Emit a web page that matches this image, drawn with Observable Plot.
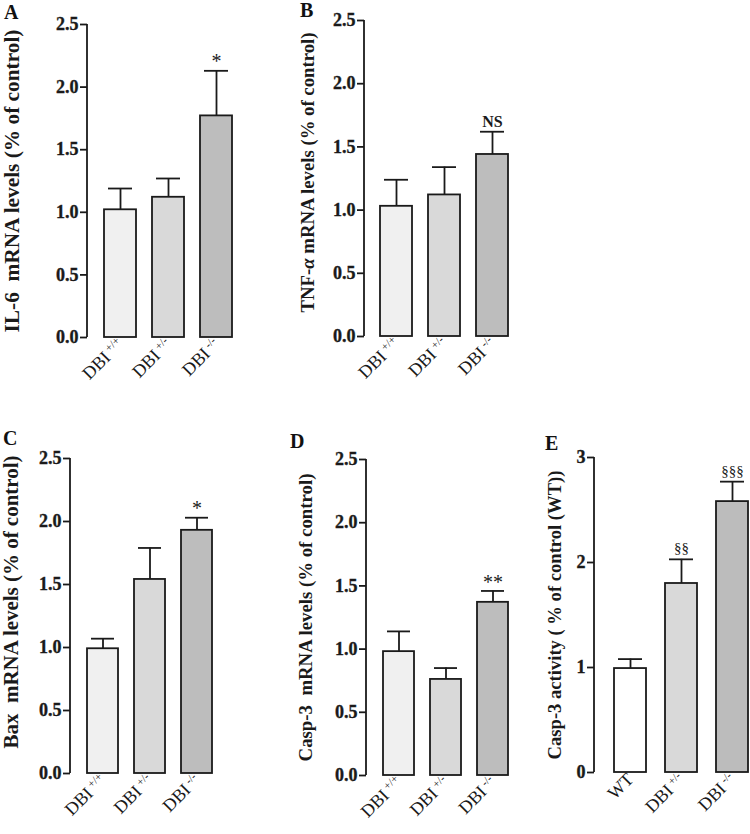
<!DOCTYPE html>
<html><head><meta charset="utf-8">
<script src="https://cdn.jsdelivr.net/npm/d3@7"></script>
<script src="https://cdn.jsdelivr.net/npm/@observablehq/plot@0.6"></script>
<style>
body{margin:0;background:#fff;}
#wrap{position:relative;width:750px;height:834px;overflow:hidden;}
#wrap svg{position:absolute;overflow:visible;}
.letter{position:absolute;font:bold 20px "Liberation Serif",serif;line-height:20px;color:#111;}
</style></head><body><div id="wrap"></div>
<script>
// ---- data ----
const groupsKO = ["DBI +/+", "DBI +/-", "DBI -/-"];
const groupsE = ["WT", "DBI +/-", "DBI -/-"];
const il6Mean = [1.02, 1.12, 1.77];
const il6Sem = [0.17, 0.15, 0.36];
const il6Sig = ["", "", "*"];
const tnfMean = [1.03, 1.12, 1.44];
const tnfSem = [0.21, 0.22, 0.18];
const tnfSig = ["", "", "NS"];
const baxMean = [0.99, 1.54, 1.93];
const baxSem = [0.08, 0.25, 0.10];
const baxSig = ["", "", "*"];
const casp3Mean = [0.98, 0.76, 1.37];
const casp3Sem = [0.16, 0.09, 0.09];
const casp3Sig = ["", "", "**"];
const actMean = [0.99, 1.80, 2.58];
const actSem = [0.09, 0.23, 0.19];
const actSig = ["", "§§", "§§§"];
const ticks25 = [0, 0.5, 1.0, 1.5, 2.0, 2.5];
const ticks3 = [0, 1, 2, 3];

// ---- styles ----
const fillsKO = ["#f0f0f0", "#d9d9d9", "#bdbdbd"];
const fillsE = ["#ffffff", "#d9d9d9", "#bcbcbc"];
const ink = "#1a1a1a";
const serif = "'Liberation Serif', 'Times New Roman', serif";

const wrap = document.getElementById("wrap");

function ariaOf(el) {
  const g = el.closest("[aria-label]");
  return g ? g.getAttribute("aria-label") : "";
}

function panel(o) {
  const data = o.cats.map((c, i) => ({cat: c, mean: o.mean[i], top: o.mean[i] + o.sem[i], sig: o.sig[i]}));
  const mL = o.axisX - o.left, mT = o.yTop - o.top, mB = o.height - (o.yBottom - o.top);
  const svg = Plot.plot({
    width: o.width, height: o.height,
    marginLeft: mL, marginTop: mT, marginBottom: mB, marginRight: 0,
    style: {fontFamily: serif, fontSize: "17px", color: ink, background: "transparent"},
    x: {domain: o.cats, range: [o.barL - o.left, o.barR - o.left], paddingInner: o.pInner, paddingOuter: 0},
    y: {domain: o.yDomain},
    color: {domain: o.cats, range: o.fills},
    marks: [
      Plot.ruleX(data, {x: "cat", y1: "mean", y2: "top", stroke: ink, strokeWidth: 1.8}),
      Plot.tickY(data, {x: "cat", y: "top", stroke: ink, strokeWidth: 1.8, insetLeft: 4, insetRight: 4}),
      Plot.barY(data, {x: "cat", y: "mean", fill: "cat", stroke: ink, strokeWidth: 1.8}),
      Plot.text(data, {x: "cat", y: "top", text: "sig", lineAnchor: "bottom", dy: o.sigDy, fontSize: o.sigSize, fontWeight: o.sigWeight, fill: ink}),
      Plot.axisY({ticks: o.ticks, tickFormat: o.fmt, tickSize: 7, tickPadding: 2, strokeWidth: 1.8,
        fontWeight: "bold", fontSize: 18,
        label: o.label, labelAnchor: "center", labelArrow: "none", labelOffset: o.axisX - o.labelLeft}),
      Plot.axisX({tickSize: 0, tickPadding: 4, tickRotate: -45, label: null})
    ]
  });
  svg.style.left = o.left + "px";
  svg.style.top = o.top + "px";
  wrap.appendChild(svg);
  const S = d3.select(svg);
  // vertical axis line from the y scale
  const ys = svg.scale("y");
  S.append("line").attr("x1", mL).attr("x2", mL)
    .attr("y1", ys.apply(o.yDomain[1])).attr("y2", ys.apply(o.yDomain[0]))
    .attr("stroke", ink).attr("stroke-width", 1.8);
  S.selectAll("text").each(function () {
    const a = ariaOf(this);
    const sel = d3.select(this);
    if (a === "y-axis tick label") {
      sel.attr("font-weight", "bold").style("font-weight", "700").style("font-size", "18px")
        .style("font-family", serif).style("paint-order", "stroke").style("stroke", ink).style("stroke-width", "0.35px");
    } else if (a === "x-axis tick label") {
      const t = this.textContent;
      sel.style("font-size", "18px").style("font-family", serif);
      const k = t.indexOf(" ");
      if (k >= 0) {
        sel.text(t.slice(0, k));
        sel.append("tspan").attr("dy", "-0.55em").attr("dx", "3").style("font-size", "11px").text(t.slice(k + 1));
      }
    } else if (a === "y-axis label") {
      const t = this.textContent.replace(/[↑↓]/g, "").trim();
      sel.style("font-size", "20px").style("font-weight", "bold").style("font-family", serif);
      const k = t.indexOf("α");
      if (k < 0) sel.text(t);
      else {
        sel.text(t.slice(0, k));
        sel.append("tspan").style("font-style", "italic").text("α");
        sel.append("tspan").text(t.slice(k + 1));
      }
      // fit the label to the reference length
      const len = this.getComputedTextLength();
      if (len > 0) sel.style("font-size", (20 * o.labelLen / len).toFixed(2) + "px");
      const g = this.parentNode;
      if (o.labelShift) g.setAttribute("transform", (g.getAttribute("transform") || "") + ` translate(0,${o.labelShift})`);
    }
  });
  const L = document.createElement("div");
  L.className = "letter";
  L.textContent = o.letter;
  L.style.left = o.letterX + "px";
  L.style.top = o.letterY + "px";
  wrap.appendChild(L);
}

const common = {width: 250, pInner: 1 / 3, fills: fillsKO, cats: groupsKO, yDomain: [0, 2.5], ticks: ticks25,
  fmt: d3.format(".1f"), sigSize: 20, sigWeight: "normal", sigDy: -3, labelShift: 0};

panel({...common, letter: "A", letterX: 4, letterY: 2, left: 0, top: 0, height: 410,
  axisX: 87, yTop: 24, yBottom: 337, barL: 104, barR: 232, labelLeft: 3, labelLen: 303,
  mean: il6Mean, sem: il6Sem, sig: il6Sig, label: "IL-6  mRNA levels (% of control)"});
panel({...common, letter: "B", letterX: 300, letterY: 0, left: 250, top: 0, height: 410,
  axisX: 364, yTop: 20, yBottom: 336, barL: 380, barR: 508, labelLeft: 300, labelLen: 280, labelShift: -6,
  mean: tnfMean, sem: tnfSem, sig: tnfSig, sigSize: 16, sigWeight: "bold", sigDy: -5,
  label: "TNF-α mRNA levels (% of control)"});
panel({...common, letter: "C", letterX: 3, letterY: 428, left: 0, top: 420, height: 414,
  axisX: 70, yTop: 458, yBottom: 773, barL: 87, barR: 213, labelLeft: 3, labelLen: 293, labelShift: -14,
  mean: baxMean, sem: baxSem, sig: baxSig, label: "Bax  mRNA levels (% of control)"});
panel({...common, letter: "D", letterX: 290, letterY: 431, left: 250, top: 420, height: 414,
  axisX: 366, yTop: 459, yBottom: 775, barL: 382, barR: 509, labelLeft: 298, labelLen: 288,
  mean: casp3Mean, sem: casp3Sem, sig: casp3Sig, sigDy: -2, label: "Casp-3  mRNA levels (% of control)"});
panel({...common, letter: "E", letterX: 545, letterY: 433, left: 500, top: 420, height: 414,
  axisX: 594, yTop: 457, yBottom: 772, barL: 613, barR: 748, pInner: 0.379, labelLeft: 547, labelLen: 289,
  cats: groupsE, fills: fillsE, yDomain: [0, 3], ticks: ticks3, fmt: d3.format("d"),
  mean: actMean, sem: actSem, sig: actSig, sigSize: 15, sigDy: -6, label: "Casp-3 activity ( % of control (WT))"});
</script></body></html>
